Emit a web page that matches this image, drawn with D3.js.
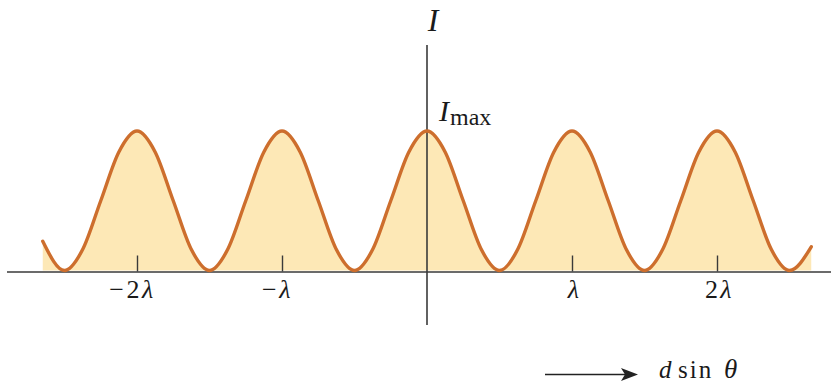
<!DOCTYPE html>
<html>
<head>
<meta charset="utf-8">
<script src="https://cdn.jsdelivr.net/npm/d3@7"></script>
<style>
  html, body { margin: 0; padding: 0; background: #fff; }
  svg { display: block; }
  text { font-family: "Liberation Serif", "DejaVu Serif", serif; fill: #1a1a1a; }
</style>
</head>
<body>
<svg id="chart" width="831" height="384"></svg>
<script>
// Path difference d·sinθ in units of λ, and relative intensity I / Imax
const pathDifference = [
  -2.65, -2.5, -2.375, -2.25, -2.125, -2, -1.875, -1.75, -1.625,
  -1.5, -1.375, -1.25, -1.125, -1, -0.875, -0.75, -0.625,
  -0.5, -0.375, -0.25, -0.125, 0, 0.125, 0.25, 0.375,
  0.5, 0.625, 0.75, 0.875, 1, 1.125, 1.25, 1.375,
  1.5, 1.625, 1.75, 1.875, 2, 2.125, 2.25, 2.375,
  2.5, 2.65
];
const intensity = [
  0.21, 0, 0.15, 0.5, 0.85, 1, 0.85, 0.5, 0.15,
  0, 0.15, 0.5, 0.85, 1, 0.85, 0.5, 0.15,
  0, 0.15, 0.5, 0.85, 1, 0.85, 0.5, 0.15,
  0, 0.15, 0.5, 0.85, 1, 0.85, 0.5, 0.15,
  0, 0.15, 0.5, 0.85, 1, 0.85, 0.5, 0.15,
  0, 0.17
];
const tickValues = [-2, -1, 1, 2];
const tickCoef = ["\u22122", "\u2212", "", "2"];

const points = pathDifference.map((v, i) => ({ x: v, y: intensity[i] }));

const svg = d3.select("#chart");

const x = d3.scaleLinear().domain([-2.9, 2.8]).range([6.5, 833]);
const y = d3.scaleLinear().domain([0, 1]).range([270.5, 131]);

const lineColor = "#cd6e2d";
const fillColor = "#fde8b6";
const axisColor = "#3a3a3a";

// shaded area under the intensity curve
svg.append("path")
  .datum(points)
  .attr("fill", fillColor)
  .attr("d", d3.area()
    .x(d => x(d.x))
    .y0(y(0))
    .y1(d => y(d.y))
    .curve(d3.curveMonotoneX));

// horizontal axis with upward ticks
const baseY = 271.5;
const axis = svg.append("g")
  .attr("transform", `translate(0,${baseY})`)
  .call(d3.axisBottom(x)
    .tickValues(tickValues)
    .tickSizeInner(-16)
    .tickSizeOuter(0)
    .tickFormat(""));
axis.select(".domain").attr("stroke", axisColor).attr("stroke-width", 1.6);
axis.selectAll(".tick line").attr("stroke", axisColor).attr("stroke-width", 1.4);
axis.selectAll(".tick text").remove();

// tick labels: multiples of λ
axis.selectAll(".tick").each(function (d) {
  const k = tickValues.indexOf(d);
  const label = d3.select(this).append("text")
    .attr("x", d < 0 ? -5 : 2)
    .attr("y", 26.5)
    .attr("text-anchor", "middle")
    .attr("font-family", "Liberation Serif")
    .attr("font-size", 26)
    .attr("letter-spacing", 2.5)
    .attr("fill", "#1a1a1a");
  if (tickCoef[k]) label.append("tspan").text(tickCoef[k]);
  label.append("tspan").attr("font-style", "italic").text("\u03bb");
});

// vertical axis
svg.append("line")
  .attr("x1", x(0)).attr("x2", x(0))
  .attr("y1", y(1.617)).attr("y2", y(-0.39))
  .attr("stroke", axisColor)
  .attr("stroke-width", 1.6);

// intensity curve
svg.append("path")
  .datum(points)
  .attr("fill", "none")
  .attr("stroke", lineColor)
  .attr("stroke-width", 3.4)
  .attr("stroke-linecap", "round")
  .attr("d", d3.line()
    .x(d => x(d.x))
    .y(d => y(d.y))
    .curve(d3.curveMonotoneX));

// axis labels
svg.append("text")
  .attr("x", x(0) + 6).attr("y", 31)
  .attr("text-anchor", "middle")
  .attr("font-size", 32)
  .attr("font-style", "italic")
  .text("I");

const imax = svg.append("text")
  .attr("x", x(0) + 12).attr("y", 121)
  .attr("font-size", 30);
imax.append("tspan").attr("font-style", "italic").text("I");
imax.append("tspan").attr("font-size", 24).attr("dy", 4).attr("dx", 1).text("max");

// d sinθ direction arrow
const arrowY = 374.5;
svg.append("line")
  .attr("x1", 545).attr("x2", 628)
  .attr("y1", arrowY).attr("y2", arrowY)
  .attr("stroke", "#222").attr("stroke-width", 1.6);
svg.append("path")
  .attr("d", `M638,${arrowY} L621,${arrowY - 6.5} L625,${arrowY} L621,${arrowY + 6.5} Z`)
  .attr("fill", "#222");

const dlabel = svg.append("text")
  .attr("y", 377.5)
  .attr("font-size", 25);
dlabel.append("tspan").attr("x", 659).attr("font-style", "italic").text("d");
dlabel.append("tspan").attr("x", 678).attr("letter-spacing", 2).text("sin");
dlabel.append("tspan").attr("x", 724).attr("font-size", 27).attr("font-style", "italic").text("\u03b8");
</script>
</body>
</html>
